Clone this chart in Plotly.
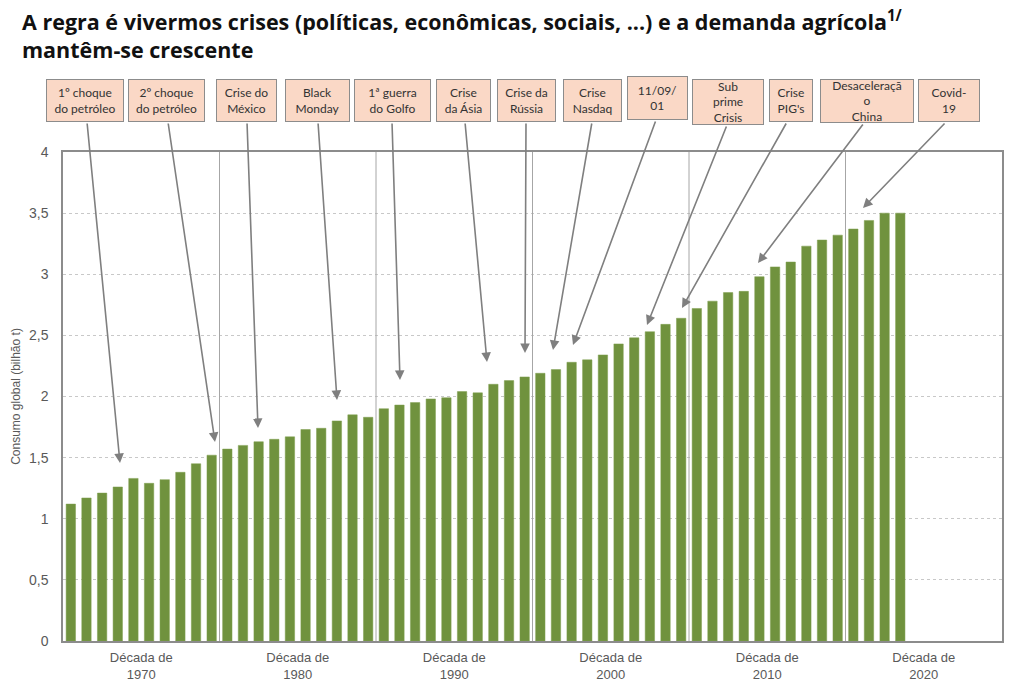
import plotly.graph_objects as go

# ---------------- data ----------------
years = list(range(1970, 2024))
consumo = [
    1.12, 1.17, 1.21, 1.26, 1.33, 1.29, 1.32, 1.38, 1.45, 1.52,   # 1970s
    1.57, 1.60, 1.63, 1.65, 1.67, 1.73, 1.74, 1.80, 1.85, 1.83,   # 1980s
    1.90, 1.93, 1.95, 1.98, 1.99, 2.04, 2.03, 2.10, 2.13, 2.16,   # 1990s
    2.19, 2.22, 2.28, 2.30, 2.34, 2.43, 2.48, 2.53, 2.59, 2.64,   # 2000s
    2.72, 2.78, 2.85, 2.86, 2.98, 3.06, 3.10, 3.23, 3.28, 3.32,   # 2010s
    3.37, 3.44, 3.50, 3.50,                                       # 2020s
]
decades = [1970, 1980, 1990, 2000, 2010, 2020]
decade_labels = ["Década de<br>%d" % d for d in decades]
y_ticks = [0, 0.5, 1, 1.5, 2, 2.5, 3, 3.5, 4]
y_tick_labels = ["0", "0,5", "1", "1,5", "2", "2,5", "3", "3,5", "4"]

events = [
    "1º choque<br>do petróleo", "2º choque<br>do petróleo", "Crise do<br>México",
    "Black<br>Monday", "1ª guerra<br>do Golfo", "Crise<br>da Ásia",
    "Crise da<br>Rússia", "Crise<br>Nasdaq", "11/09/<br>01",
    "Sub<br>prime<br>Crisis", "Crise<br>PIG's", "Desaceleraçã<br>o<br>China",
    "Covid-<br>19",
]
title_text = ("A regra é vivermos crises (políticas, econômicas, sociais, ...) "
              "e a demanda agrícola<sup>1/</sup><br>mantêm-se crescente")

# ---------------- layout constants (pixels) ----------------
W, H = 1023, 690
PL, PR, PT, PB = 63, 1002, 152, 641  # plot area edges

# box geometry: left, right, top, bottom (px)
box_geom = [
    (46, 124, 79, 122), (128, 205, 79, 122), (216, 277, 79, 122),
    (285, 350, 79, 122), (354, 431, 79, 122), (436, 491, 79, 122),
    (497, 556, 79, 122), (563, 622, 79, 122), (627, 688, 76, 120),
    (692, 764, 79, 125), (769, 813, 79, 122), (820, 914, 79, 123),
    (918, 980, 79, 122),
]
# arrow tail (px) and tip (px)
arrow_tail = [
    (87, 122), (168, 122), (247, 122), (318, 122), (392, 122), (465, 122),
    (526, 122), (592, 122), (656, 120), (727, 125), (787, 122), (864, 123),
    (946, 122),
]
arrow_tip = [
    (120, 463), (215, 442), (258, 428), (337, 400), (400, 380), (487, 362),
    (525, 353), (553, 350), (573, 345), (647, 325), (682, 308), (758, 263),
    (863, 208),
]


def px2paper_x(px):
    return (px - PL) / (PR - PL)


def px2paper_y(py):
    return (PB - py) / (PB - PT)


fig = go.Figure()
fig.add_trace(go.Bar(
    x=years, y=consumo,
    marker=dict(color="#70923E", line=dict(color="#7E9E4E", width=0.5)),
    width=0.6,
    hoverinfo="x+y",
))

# decade separators
shapes = []
for d in decades[1:]:
    shapes.append(dict(type="line", xref="x", yref="y", x0=d - 0.5, x1=d - 0.5,
                       y0=0, y1=4, line=dict(color="#A6A6A6", width=1), layer="above"))

annotations = []
# title
annotations.append(dict(
    xref="paper", yref="paper", x=px2paper_x(20), y=px2paper_y(3),
    xanchor="left", yanchor="top", align="left", showarrow=False,
    text=title_text,
    font=dict(family="Open Sans, sans-serif", size=21.5, color="#111111", weight="bold"),
))
# arrows
for (tx, ty), (hx, hy) in zip(arrow_tail, arrow_tip):
    annotations.append(dict(
        xref="paper", yref="paper", x=px2paper_x(hx), y=px2paper_y(hy),
        axref="pixel", ayref="pixel", ax=tx - hx, ay=ty - hy,
        text="", showarrow=True, arrowhead=2, arrowsize=1.2, arrowwidth=1.6,
        arrowcolor="#7F7F7F", standoff=0, startstandoff=0,
    ))
# boxes
for txt, (l, r, t, b) in zip(events, box_geom):
    annotations.append(dict(
        xref="paper", yref="paper",
        x=px2paper_x((l + r) / 2), y=px2paper_y((t + b) / 2),
        xanchor="center", yanchor="middle",
        text=txt, showarrow=False,
        width=r - l - 2, height=b - t - 2,
        bgcolor="#FAD8C6", bordercolor="#8C8C8C", borderwidth=1, borderpad=0,
        font=dict(family="Lato, Open Sans, sans-serif", size=12, color="#333333"),
        align="center", valign="middle",
    ))

fig.update_layout(
    width=W, height=H,
    margin=dict(l=PL, r=W - PR, t=PT, b=H - PB, autoexpand=False),
    paper_bgcolor="white", plot_bgcolor="white",
    showlegend=False,
    xaxis=dict(
        range=[1969.5, 2029.5],
        tickvals=[d + 4.5 for d in decades], ticktext=decade_labels,
        showgrid=False, zeroline=False,
        showline=True, mirror=True, linecolor="#8C8C8C", linewidth=1.5,
        ticks="", ticklabelstandoff=4,
        tickfont=dict(family="Liberation Sans, Arial, sans-serif", size=13, color="#595959"),
    ),
    yaxis=dict(
        range=[0, 4], tickvals=y_ticks, ticktext=y_tick_labels,
        showgrid=True, gridcolor="#C8C8C8", griddash="dot", gridwidth=1,
        zeroline=False,
        showline=True, mirror=True, linecolor="#8C8C8C", linewidth=1.5,
        ticks="", ticklabelstandoff=10,
        tickfont=dict(family="Liberation Sans, Arial, sans-serif", size=14, color="#595959"),
        title=dict(text="Consumo global (bilhão t)", standoff=6,
                   font=dict(family="Liberation Sans, Arial, sans-serif", size=12, color="#595959")),
    ),
    bargap=0.4,
    shapes=shapes,
    annotations=annotations,
)

fig.write_html("out.html")
